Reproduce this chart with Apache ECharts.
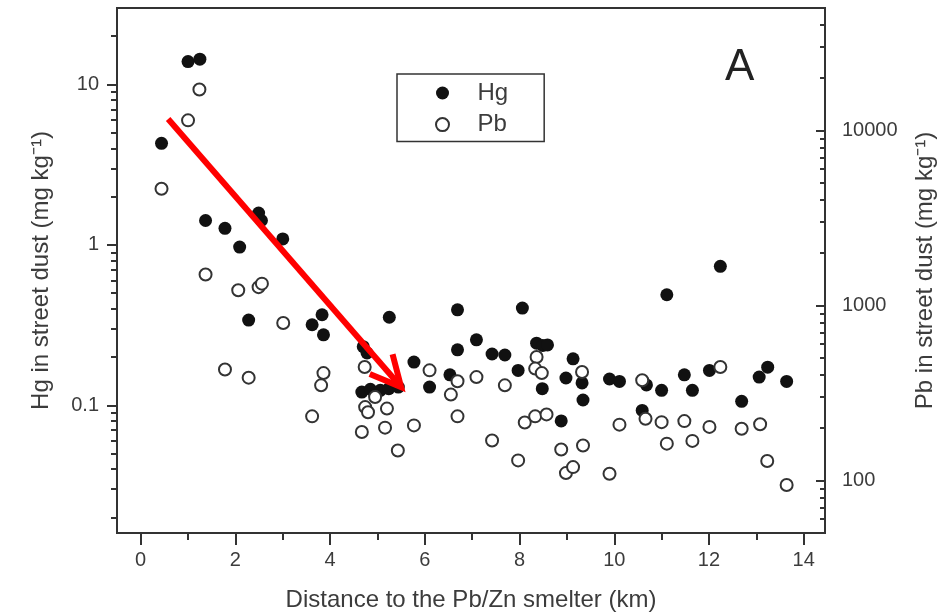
<!DOCTYPE html>
<html><head><meta charset="utf-8">
<script src="https://cdn.jsdelivr.net/npm/echarts@6/dist/echarts.min.js"></script>
<style>html,body{margin:0;padding:0;background:#fff}#c{width:952px;height:615px}</style>
</head><body><div id="c"></div>
<script>
// Distance (km) and Hg (mg/kg) in street dust
const hgX = [0.44, 1.00, 1.25, 1.37, 1.78, 2.09, 2.28, 2.49, 2.55, 3.00, 3.62, 3.83, 3.86,
  4.70, 4.78, 4.67, 4.85, 5.06, 5.24, 5.44, 5.25, 5.77, 6.10, 6.53, 6.69, 6.69, 7.09, 7.42,
  7.69, 7.97, 8.06, 8.36, 8.49, 8.59, 8.48, 8.88, 8.98, 9.13, 9.32, 9.34, 9.90, 10.11, 10.68,
  10.59, 11.00, 11.11, 11.48, 11.65, 12.01, 12.24, 12.69, 13.06, 13.24, 13.64];
const hgY = [4.3, 13.9, 14.4, 1.42, 1.27, 0.97, 0.34, 1.58, 1.42, 1.09, 0.318, 0.367, 0.275,
  0.232, 0.212, 0.121, 0.126, 0.124, 0.127, 0.130, 0.354, 0.186, 0.130, 0.155, 0.394, 0.222, 0.256, 0.209,
  0.206, 0.165, 0.404, 0.244, 0.236, 0.238, 0.127, 0.080, 0.148, 0.195, 0.138, 0.108, 0.146, 0.141, 0.134,
  0.093, 0.124, 0.489, 0.155, 0.124, 0.165, 0.736, 0.106, 0.150, 0.173, 0.141];
// Distance (km) and Pb (mg/kg) in street dust
const pbX = [0.44, 1.00, 1.24, 1.37, 1.78, 2.06, 2.28, 2.49, 2.56, 3.01, 3.62, 3.81, 3.86,
  4.73, 4.95, 4.74, 4.80, 4.67, 5.20, 5.16, 5.43, 5.77, 6.10, 6.55, 6.69, 6.69, 7.09, 7.42,
  7.69, 7.97, 8.11, 8.36, 8.33, 8.47, 8.33, 8.57, 8.88, 8.98, 9.13, 9.32, 9.34, 9.90, 10.11,
  10.59, 10.66, 11.00, 11.11, 11.48, 11.65, 12.01, 12.24, 12.69, 13.08, 13.23, 13.64];
const pbY = [4640, 11400, 17100, 1500, 430, 1220, 386, 1270, 1330, 792, 232, 349, 410,
  444, 299, 262, 245, 189, 257, 200, 148, 206, 425, 309, 368, 232, 389, 169,
  349, 130, 214, 507, 435, 410, 232, 238, 150, 110, 119, 416, 158, 109, 208,
  373, 225, 215, 162, 218, 168, 202, 444, 197, 209, 129, 94];

const seriesNames = ['Hg', 'Pb'];
const xMajorTicks = [0, 2, 4, 6, 8, 10, 12, 14];
const xMinorTicks = [1, 3, 5, 7, 9, 11, 13];
const hgMajorTicks = [0.1, 1, 10];
const hgMinorTicks = [0.02, 0.03, 0.04, 0.05, 0.06, 0.07, 0.08, 0.09,
  0.2, 0.3, 0.4, 0.5, 0.6, 0.7, 0.8, 0.9, 2, 3, 4, 5, 6, 7, 8, 9, 20];
const pbMajorTicks = [100, 1000, 10000];
const pbMinorTicks = [60, 70, 80, 90, 200, 300, 400, 500, 600, 700, 800, 900,
  2000, 3000, 4000, 5000, 6000, 7000, 8000, 9000, 20000, 30000, 40000];
// Red arrow annotation: from (km, Hg) to (km, Hg)
const arrowFrom = [0.58, 6.1];
const arrowTo = [5.5, 0.13];

const FONT = 'Liberation Sans, Arial, sans-serif';
const AX = '#333';
const TXT = '#3c3c3c';
const fmt = v => String(+Number(v).toPrecision(6));

const chart = echarts.init(document.getElementById('c'), null, {renderer: 'canvas'});

function xAxisDef(ticks, len, withLabels) {
  return {
    type: 'value', min: -0.5, max: 14.45, position: 'bottom',
    axisLine: {show: withLabels, onZero: false, lineStyle: {color: AX, width: 2}},
    axisTick: {show: true, customValues: ticks, length: len, lineStyle: {color: AX, width: 2}},
    axisLabel: withLabels ? {show: true, customValues: ticks, margin: 17, fontSize: 20,
      fontFamily: FONT, color: TXT, formatter: fmt} : {show: false},
    splitLine: {show: false}, minorTick: {show: false},
    name: withLabels ? 'Distance to the Pb/Zn smelter (km)' : '',
    nameLocation: 'middle', nameGap: 55,
    nameTextStyle: {fontSize: 24, fontFamily: FONT, color: TXT}
  };
}
function yAxisDef(min, max, pos, ticks, len, inside, withLabels, name, nameGap) {
  return {
    type: 'log', logBase: 10, min: min, max: max, position: pos,
    axisLine: {show: withLabels, onZero: false, lineStyle: {color: AX, width: 2}},
    axisTick: {show: true, inside: inside, customValues: ticks, length: len, lineStyle: {color: AX, width: 2}},
    axisLabel: withLabels ? {show: true, customValues: ticks, margin: pos === 'left' ? 18 : 17,
      fontSize: 20, fontFamily: FONT, color: TXT, formatter: fmt} : {show: false},
    splitLine: {show: false}, minorTick: {show: false},
    name: withLabels ? name : '', nameLocation: 'middle', nameGap: nameGap, nameRotate: 90,
    nameTextStyle: {fontSize: 24, fontFamily: FONT, color: TXT}
  };
}

const option = {
  animation: false,
  backgroundColor: '#fff',
  textStyle: {fontFamily: FONT},
  grid: {left: 117, right: 127, top: 8, bottom: 82, show: true, borderColor: AX, borderWidth: 2,
    containLabel: false, outerBoundsMode: 'none'},
  title: {text: 'A', left: 725, top: 46, padding: 0,
    textStyle: {fontSize: 44, fontWeight: 'normal', fontFamily: FONT, color: '#222'}},
  legend: {
    data: seriesNames, orient: 'vertical', left: 397, top: 74, selectedMode: false,
    padding: [7, 36, 5, 38], itemWidth: 60, itemHeight: 13, itemGap: 7.6,
    borderColor: AX, borderWidth: 1.5, borderRadius: 0, backgroundColor: '#fff',
    textStyle: {fontSize: 24, fontFamily: FONT, color: TXT, lineHeight: 14}
  },
  xAxis: [xAxisDef(xMajorTicks, 12, true), xAxisDef(xMinorTicks, 7, false)],
  yAxis: [
    yAxisDef(0.016, 30, 'left', hgMajorTicks, 10, false, true, 'Hg in street dust (mg kg\u207B\u00B9)', 64),
    yAxisDef(0.016, 30, 'left', hgMinorTicks, 6, false, false, '', 0),
    yAxisDef(50, 50000, 'right', pbMajorTicks, 9, true, true, 'Pb in street dust (mg kg\u207B\u00B9)', 88),
    yAxisDef(50, 50000, 'right', pbMinorTicks, 5, true, false, '', 0)
  ],
  series: [
    {
      name: seriesNames[0], type: 'scatter', xAxisIndex: 0, yAxisIndex: 0,
      symbol: 'circle', symbolSize: 13, z: 3,
      itemStyle: {color: '#111', opacity: 1},
      data: hgX.map((x, i) => [x, hgY[i]])
    },
    {
      name: seriesNames[1], type: 'scatter', xAxisIndex: 0, yAxisIndex: 2,
      symbol: 'circle', symbolSize: 12, z: 4,
      itemStyle: {color: '#fff', borderColor: '#333', borderWidth: 2, opacity: 1},
      data: pbX.map((x, i) => [x, pbY[i]])
    },
    {
      name: 'arrow', type: 'custom', xAxisIndex: 0, yAxisIndex: 0, silent: true, z: 10,
      data: [[arrowFrom[0], arrowFrom[1], arrowTo[0], arrowTo[1]]],
      encode: {x: [0, 2], y: [1, 3]},
      renderItem: function (params, api) {
        const p0 = api.coord([api.value(0), api.value(1)]);
        const p1 = api.coord([api.value(2), api.value(3)]);
        const ang = Math.atan2(p0[1] - p1[1], p0[0] - p1[0]);
        const L = 34, a = 0.46;
        const w1 = [p1[0] + L * Math.cos(ang + a), p1[1] + L * Math.sin(ang + a)];
        const w2 = [p1[0] + L * Math.cos(ang - a), p1[1] + L * Math.sin(ang - a)];
        const st = {stroke: '#ff0000', lineWidth: 6, fill: null};
        return {type: 'group', children: [
          {type: 'line', shape: {x1: p0[0], y1: p0[1], x2: p1[0] + 3 * Math.cos(ang), y2: p1[1] + 3 * Math.sin(ang)}, style: st},
          {type: 'polyline', shape: {points: [w1, p1, w2]}, style: Object.assign({lineJoin: 'miter'}, st)}
        ]};
      }
    }
  ]
};
chart.setOption(option);
</script></body></html>
